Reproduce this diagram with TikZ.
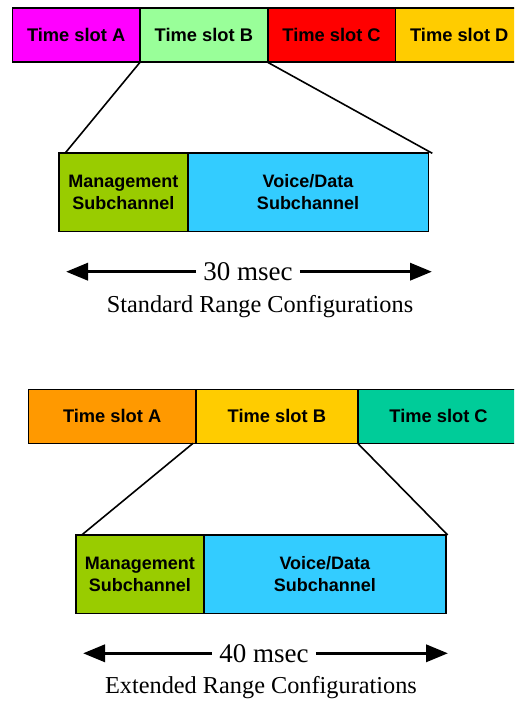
\documentclass[tikz,border=0pt]{standalone}
\usepackage{fontspec}
\setmainfont{Liberation Serif}
\newfontfamily\labelsans{Liberation Sans}
\usepackage{tikz}
\usetikzlibrary{positioning, arrows.meta}
\definecolor{slotmag}{HTML}{FF00FF}
\definecolor{slotmint}{HTML}{99FF99}
\definecolor{slotred}{HTML}{FF0000}
\definecolor{slotgold}{HTML}{FFCC00}
\definecolor{slotorange}{HTML}{FF9900}
\definecolor{slotteal}{HTML}{00CC99}
\definecolor{mgmtgreen}{HTML}{99CC00}
\definecolor{voiceblue}{HTML}{33CCFF}
\tikzset{
  slot/.style={draw, line width=1.6pt, outer sep=0pt, inner sep=0pt,
               minimum height=54pt, font=\labelsans\bfseries\fontsize{18.3}{21}\selectfont},
  sub/.style={draw, line width=1.6pt, outer sep=0pt, inner sep=0pt, align=center,
              minimum height=78.3pt, font=\labelsans\bfseries\fontsize{18}{22}\selectfont},
  zoomline/.style={line width=1.6pt},
  span/.style={-{Triangle[length=22pt,width=17pt]}, line width=3.5pt},
  msec/.style={inner sep=7pt, font=\fontsize{27}{30}\selectfont},
  caption/.style={inner sep=0pt, font=\fontsize{24.3}{28}\selectfont},
}
\begin{document}
\begin{tikzpicture}[x=1pt, y=-1pt]
  \clip (0,0) rectangle (514,703);
  \useasboundingbox (0,0) rectangle (514,703);

  % standard range
  \node[slot, fill=slotmag, minimum width=127.7pt, anchor=north west] (stdA) at (12.3,8.3) {Time slot A};
  \node[slot, fill=slotmint, minimum width=127.7pt, right=0pt of stdA] (stdB) {Time slot B};
  \node[slot, fill=slotred, minimum width=127.7pt, right=0pt of stdB] (stdC) {Time slot C};
  \node[slot, fill=slotgold, minimum width=127.7pt, right=0pt of stdC] (stdD) {Time slot D};

  \node[sub, fill=mgmtgreen, minimum width=128.7pt, anchor=north west] (stdMgmt) at (59,153.3) {Management\\Subchannel};
  \node[sub, fill=voiceblue, minimum width=240.6pt, right=0pt of stdMgmt] (stdVoice) {Voice/Data\\Subchannel};

  \draw[zoomline] (stdB.south west) -- ([xshift=6pt]stdMgmt.north west);
  \draw[zoomline] (stdB.south east) -- ([xshift=4pt]stdVoice.north east);

  \node[msec] (stdTime) at (248,271.7) {30 msec};
  \coordinate (stdTipL) at (66,271.7);
  \coordinate (stdTipR) at (432,271.7);
  \draw[span] (stdTime.west) -- (stdTipL);
  \draw[span] (stdTime.east) -- (stdTipR);
  \node[caption] (stdCap) at (260,306.7) {Standard Range Configurations};

  % extended range
  \node[slot, fill=slotorange, minimum width=167.7pt, anchor=north west] (extA) at (28.3,389.3) {Time slot A};
  \node[slot, fill=slotgold, minimum width=161.7pt, right=0pt of extA] (extB) {Time slot B};
  \node[slot, fill=slotteal, minimum width=161.7pt, right=0pt of extB] (extC) {Time slot C};

  \node[sub, fill=mgmtgreen, minimum width=128.3pt, anchor=north west] (extMgmt) at (75.7,535) {Management\\Subchannel};
  \node[sub, fill=voiceblue, minimum width=241.7pt, right=0pt of extMgmt] (extVoice) {Voice/Data\\Subchannel};

  \draw[zoomline] ([xshift=-3pt]extB.south west) -- ([xshift=6pt]extMgmt.north west);
  \draw[zoomline] (extB.south east) -- ([xshift=2pt]extVoice.north east);

  \node[msec] (extTime) at (264,653.3) {40 msec};
  \coordinate (extTipL) at (83,653.3);
  \coordinate (extTipR) at (448,653.3);
  \draw[span] (extTime.west) -- (extTipL);
  \draw[span] (extTime.east) -- (extTipR);
  \node[caption] (extCap) at (261,688) {Extended Range Configurations};
\end{tikzpicture}
\end{document}
